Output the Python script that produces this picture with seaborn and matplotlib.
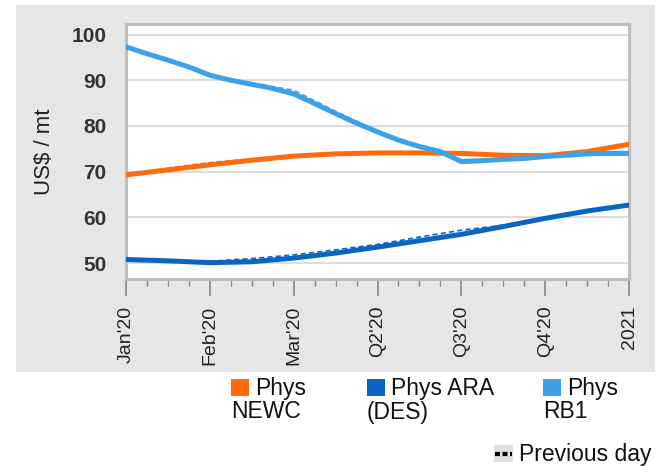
import numpy as np
import pandas as pd
import seaborn as sns
import matplotlib.pyplot as plt
from matplotlib.patches import Rectangle

# x positions: 0 = Jan'20 ... 6 = 2021
tick_labels = ["Jan'20", "Feb'20", "Mar'20", "Q2'20", "Q3'20", "Q4'20", "2021"]
x_half = [0, 0.5, 1, 1.5, 2, 2.5, 3, 3.5, 4, 4.5, 5, 5.5, 6]
x_quarter = [0, 0.25, 0.5, 0.75, 1, 1.25, 1.5, 1.75, 2, 2.25, 2.5, 2.75, 3,
             3.25, 3.5, 3.75, 4, 4.25, 4.5, 4.75, 5, 5.25, 5.5, 5.75, 6]

newc = [69.3, 70.4, 71.5, 72.5, 73.4, 73.9, 74.1, 74.1, 74.0, 73.6, 73.5, 74.4, 76.0]
ara = [50.8, 50.5, 50.1, 50.3, 51.1, 52.2, 53.5, 54.9, 56.3, 58.0, 59.8, 61.4, 62.7]
rb1 = [97.3, 95.8, 94.4, 92.9, 91.1, 90.0, 89.1, 88.2, 87.0, 84.9, 82.7, 80.6, 78.7,
       76.9, 75.5, 74.4, 72.2, 72.4, 72.7, 72.9, 73.3, 73.6, 73.9, 74.0, 74.0]

# previous day curves
newc_prev = [69.3, 70.8, 72.0, 72.8, 73.6, 74.0, 74.2, 74.2, 74.1, 73.5, 73.4, 74.6, 75.8]
ara_prev = [50.8, 50.6, 50.4, 51.0, 51.8, 52.9, 54.1, 55.7, 57.2, 58.3, 59.9, 61.4, 62.7]
rb1_prev = [97.3, 94.4, 91.1, 89.4, 87.8, 83.2, 78.9, 75.7, 72.6, 72.8, 73.4, 74.0, 74.2]

series_names = ["Phys NEWC", "Phys ARA (DES)", "Phys RB1"]
colors = {"Phys NEWC": "#FF6A0D", "Phys ARA (DES)": "#0A64C2", "Phys RB1": "#3DA0EA"}

df = pd.concat([
    pd.DataFrame({"x": x_half, "value": newc, "series": "Phys NEWC"}),
    pd.DataFrame({"x": x_half, "value": ara, "series": "Phys ARA (DES)"}),
    pd.DataFrame({"x": x_quarter, "value": rb1, "series": "Phys RB1"}),
])
df_prev = pd.concat([
    pd.DataFrame({"x": x_half, "value": newc_prev, "series": "Phys NEWC"}),
    pd.DataFrame({"x": x_half, "value": ara_prev, "series": "Phys ARA (DES)"}),
    pd.DataFrame({"x": x_half, "value": rb1_prev, "series": "Phys RB1"}),
])

sns.set_theme(style="white")
plt.rcParams['font.family'] = ['Liberation Sans', 'DejaVu Sans']

fig = plt.figure(figsize=(6.58, 4.66), dpi=100)
fig.patches.append(Rectangle((0.024, 0.2017), 0.971, 0.7876, transform=fig.transFigure,
                             facecolor='#E6E6E6', edgecolor='none', zorder=-1))
ax = fig.add_axes([0.1915, 0.401, 0.7645, 0.5475])
ax.set_facecolor('white')

sns.lineplot(data=df_prev, x="x", y="value", hue="series", palette=colors,
             hue_order=series_names, linewidth=1.2, linestyle=(0, (3, 2)),
             legend=False, ax=ax, zorder=2)
sns.lineplot(data=df, x="x", y="value", hue="series", palette=colors,
             hue_order=series_names, linewidth=3.6, legend=False, ax=ax, zorder=3)

ax.set_xlim(0, 6)
ax.set_ylim(46.5, 102.3)
ax.set_yticks([50, 60, 70, 80, 90, 100])
ax.set_xticks(range(7))
ax.set_xticklabels(tick_labels, rotation=90)
ax.set_xticks(x_quarter, minor=True)
ax.grid(axis='y', color='#DCDCDC', linewidth=1.5)
ax.set_axisbelow(True)
for s in ax.spines.values():
    s.set_color('#BDBDBD')
    s.set_linewidth(2.2)

ax.tick_params(axis='y', length=0, pad=14, labelsize=15, labelcolor='#333333')
for lab in ax.get_yticklabels():
    lab.set_fontweight('bold')
ax.tick_params(axis='x', which='major', direction='out', length=12, width=1.2,
               color='#888888', pad=7, labelsize=14, labelcolor='#222222', bottom=True)
ax.tick_params(axis='x', which='minor', direction='out', length=5, width=1.0,
               color='#888888', bottom=True)
ax.set_xlabel("")
ax.set_ylabel("US$ / mt", fontsize=16, color='#222222', labelpad=12)

# legend drawn beneath the grey panel
W, H = 658.0, 466.0
def fx(px):
    return px / W
def fy(py):
    return 1 - py / H

legend_items = [(231, "Phys", "NEWC", "Phys NEWC"),
                (367, "Phys ARA", "(DES)", "Phys ARA (DES)"),
                (543, "Phys", "RB1", "Phys RB1")]
for x0, line1, line2, name in legend_items:
    fig.patches.append(Rectangle((fx(x0), fy(396)), 18 / W, 17 / H,
                                 transform=fig.transFigure, facecolor=colors[name],
                                 edgecolor='none'))
    fig.text(fx(x0 + 24), fy(388), line1, fontsize=16.5, va='center', ha='left', color='#111111')
    fig.text(fx(x0), fy(412), line2, fontsize=16.5, va='center', ha='left', color='#111111')

fig.patches.append(Rectangle((fx(494), fy(462)), 19 / W, 17 / H,
                             transform=fig.transFigure, facecolor='#E0E0E0', edgecolor='none'))
fig.lines.append(plt.Line2D([fx(495), fx(512)], [fy(453.5), fy(453.5)],
                            transform=fig.transFigure, color='black', linewidth=3,
                            linestyle=(0, (1.2, 0.6))))
fig.text(fx(519), fy(454), "Previous day", fontsize=16.5, va='center', ha='left', color='#111111')

fig.savefig("out.png", dpi=100)
